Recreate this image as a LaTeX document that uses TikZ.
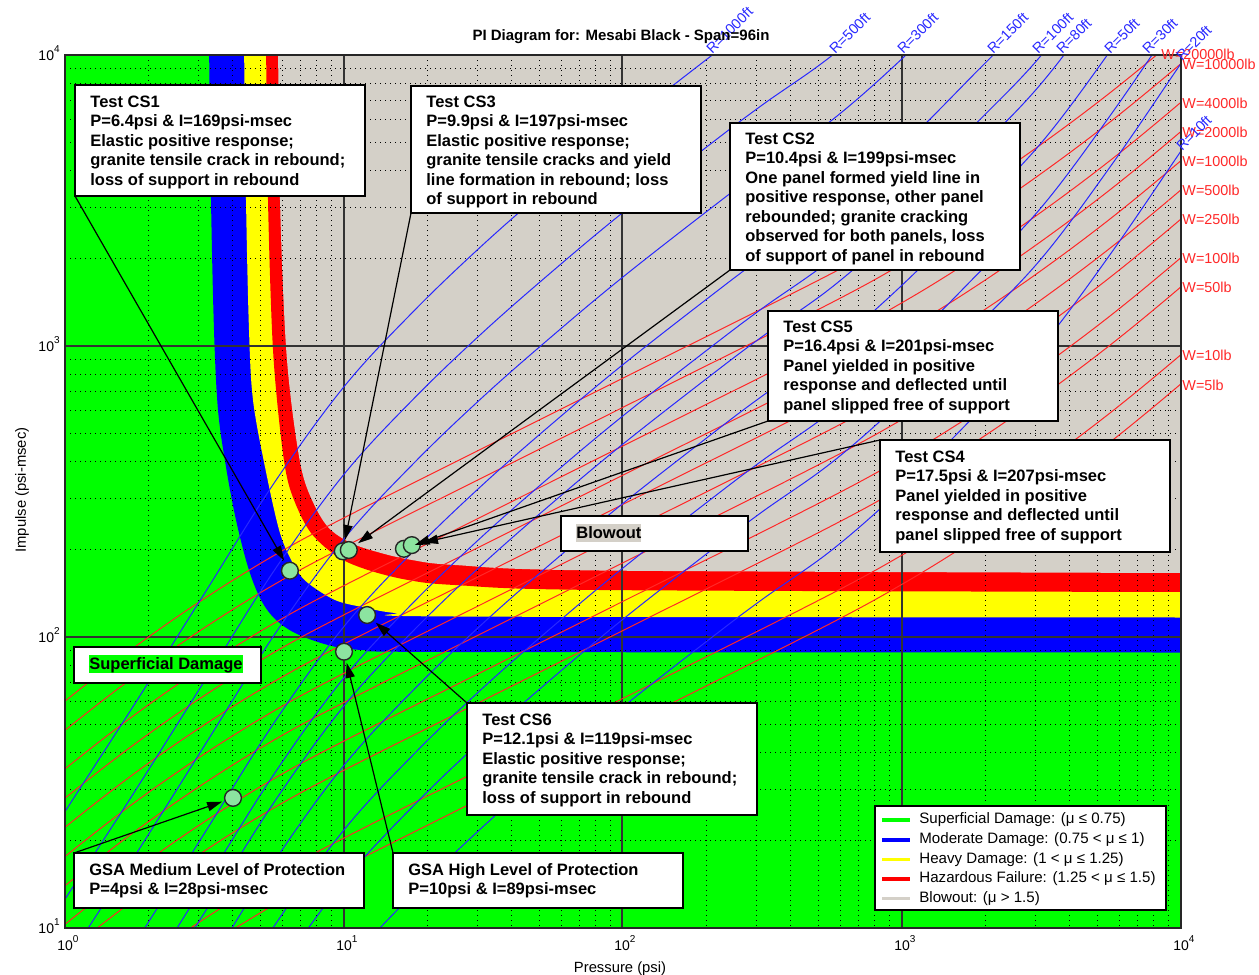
\documentclass[tikz,border=0pt]{standalone}
\usepackage{fontspec}
\setmainfont{Liberation Sans}
\usetikzlibrary{arrows.meta}
\setlength{\fboxsep}{0pt}
\definecolor{cgreen}{RGB}{0,255,0}
\definecolor{cblue}{RGB}{0,0,255}
\definecolor{cyellow}{RGB}{255,255,0}
\definecolor{cred}{RGB}{255,0,0}
\definecolor{cgrey}{RGB}{212,208,200}
\definecolor{ptfill}{RGB}{140,228,160}
\definecolor{rlc}{RGB}{255,40,40}
\definecolor{blc}{RGB}{40,40,255}
\newcommand\tenpow[1]{10\raisebox{0.55em}{\fontsize{5}{5}\selectfont #1}}
\tikzset{
  boxnode/.style={rectangle, draw=black, line width=0.6pt, fill=white, anchor=north west, minimum width=145pt, inner sep=0pt, outer sep=0pt},
  boxtext/.style={anchor=north west, inner sep=0pt, align=left, font=\fontsize{8.25}{9.75}\selectfont\bfseries},
  arr/.style={draw=black, line width=0.6pt, -{Triangle[length=7.5pt,width=4.6pt]}, shorten >=1.2pt},
  datapt/.style={circle, draw=black!85, line width=0.7pt, fill=ptfill, minimum size=8.4pt, inner sep=0pt},
  minorgrid/.style={draw=black, line width=0.5pt, dash pattern=on 0.5pt off 2pt},
  majorgrid/.style={draw=black!80, line width=0.55pt},
  rline/.style={draw=rlc, line width=0.5pt},
  bline/.style={draw=blc, line width=0.5pt},
  wlab/.style={text=rlc, anchor=west, inner sep=0pt, font=\fontsize{7.2}{8}\selectfont},
  rlab/.style={text=blc, anchor=base west, rotate=45, inner sep=0pt, font=\fontsize{7.2}{8}\selectfont},
  ticklab/.style={inner sep=0pt, font=\fontsize{7}{8}\selectfont},
  legtext/.style={anchor=west, inner sep=0pt, font=\fontsize{7.55}{9}\selectfont},
  legline/.style={line width=1.6pt}
}
\begin{document}
\begin{tikzpicture}[x=0.5pt,y=-0.5pt]
\useasboundingbox (0,0) rectangle (1259,975);
\fill[white] (0,0) rectangle (1259,975);
% ---------- plot area ----------
\begin{scope}
\clip (65,55) rectangle (1181,928);
\fill[cgreen] (65,55) rectangle (1181,928);
% damage bands
\fill[cblue] (1300,-100) -- plot[smooth, tension=0.55] coordinates {(209,40) (211,200) (214,330) (218,410) (226,467) (236,520) (248,567) (260,598) (274,618) (295,633) (328,645) (362,650) (455,652) (1190,652.5)} -- cycle;
\fill[cyellow] (1300,-100) -- plot[smooth, tension=0.55] coordinates {(244,40) (246,200) (249,330) (253,400) (265,467) (280,533) (295,567) (308,583) (335,600) (362,607) (395,613) (455,616.5) (1190,617.5)} -- cycle;
\fill[cred] (1300,-100) -- plot[smooth, tension=0.55] coordinates {(266,40) (268,200) (272,330) (277,400) (285,467) (294,500) (311,533) (338,557) (368,570) (408,580) (455,585) (600,590) (1190,592)} -- cycle;
\fill[cgrey] (1300,-100) -- plot[smooth, tension=0.55] coordinates {(278,40) (280,200) (285,330) (291,400) (301,467) (312,500) (328,527) (351,543) (381,553) (412,560) (455,565) (600,570.5) (1190,573)} -- cycle;
% minor grid
\foreach \d in {0,1,2,3}{\foreach \k in {2,...,9}{%
  \pgfmathsetmacro\xx{65+279*(\d+ln(\k)/ln(10))}
  \draw[minorgrid] (\xx,55) -- (\xx,928);}}
\foreach \d in {1,2,3}{\foreach \k in {2,...,9}{%
  \pgfmathsetmacro\yy{1219-291*(\d+ln(\k)/ln(10))}
  \draw[minorgrid] (65,\yy) -- (1181,\yy);}}
% major grid
\foreach \xx in {344,622,902}{\draw[majorgrid] (\xx,55) -- (\xx,928);}
\foreach \yy in {346,637}{\draw[majorgrid] (65,\yy) -- (1181,\yy);}
% charge weight lines (red), given by log10(W)
\foreach \lw in {4.30103,4,3.60206,3.30103,3,2.69897,2.39794,2,1.69897,1,0.69897}{%
  \pgfmathsetmacro\sh{48.5*\lw}
  \draw[rline, yshift=\sh pt] plot[smooth, tension=0.6] coordinates {(9.2,1164.9) (65,1118.3) (134.75,1064.2) (204.5,1015.7) (274.25,972.5) (344,935.0) (483.5,865.1) (623,795.3) (818.3,697.5) (902,652.1) (971.75,609.1) (1041.5,561.3) (1111.25,509.0) (1181,451.6) (1236.8,402.5)};}
% range lines (blue), given by log10(R)
\foreach \lr in {3,2.69897,2.47712,2.17609,2,1.90309,1.69897,1.47712,1.30103,1}{%
  \pgfmathsetmacro\sh{145.5*\lr}
  \draw[bline, yshift=\sh pt] plot[smooth, tension=0.6] coordinates {(9.2,1771.9) (65,1684.6) (134.75,1576.9) (204.5,1466.4) (274.25,1355.8) (344,1259.7) (413.75,1184.1) (483.5,1117.2) (553.25,1056.0) (623,997.8) (712.3,928.0) (762.5,890.2) (832.25,840.7) (902,779.6) (971.75,709.8) (1041.5,637.0) (1111.25,543.9) (1181,442.0) (1236.8,360.6)};}
\end{scope}
\draw[black!85, line width=0.7pt] (65,55) rectangle (1181,928);
% ---------- line labels ----------
\node[wlab] at (1161,54) {W=20000lb};
\node[wlab] at (1182,64) {W=10000lb};
\node[wlab] at (1182,103) {W=4000lb};
\node[wlab] at (1182,132) {W=2000lb};
\node[wlab] at (1182,161) {W=1000lb};
\node[wlab] at (1182,190) {W=500lb};
\node[wlab] at (1182,219) {W=250lb};
\node[wlab] at (1182,258) {W=100lb};
\node[wlab] at (1182,287) {W=50lb};
\node[wlab] at (1182,355) {W=10lb};
\node[wlab] at (1182,385) {W=5lb};
\node[rlab] at (712,55) {R=1000ft};
\node[rlab] at (835,55) {R=500ft};
\node[rlab] at (903,55) {R=300ft};
\node[rlab] at (993,55) {R=150ft};
\node[rlab] at (1038,55) {R=100ft};
\node[rlab] at (1062,55) {R=80ft};
\node[rlab] at (1110,55) {R=50ft};
\node[rlab] at (1148,55) {R=30ft};
\node[rlab] at (1182,62) {R=20ft};
\node[rlab] at (1182,152) {R=10ft};
% ---------- axes text ----------
\node[font=\fontsize{7.5}{9}\selectfont\bfseries] at (621,37) {PI Diagram for: Mesabi Black - Span=96in};
\node[ticklab, anchor=base east] at (60,60) {\tenpow{4}};
\node[ticklab, anchor=base east] at (60,351) {\tenpow{3}};
\node[ticklab, anchor=base east] at (60,642) {\tenpow{2}};
\node[ticklab, anchor=base east] at (60,933) {\tenpow{1}};
\node[ticklab, anchor=base west] at (57,950) {\tenpow{0}};
\node[ticklab, anchor=base west] at (336,950) {\tenpow{1}};
\node[ticklab, anchor=base west] at (614,950) {\tenpow{2}};
\node[ticklab, anchor=base west] at (894,950) {\tenpow{3}};
\node[ticklab, anchor=base west] at (1173,950) {\tenpow{4}};
\node[font=\fontsize{7.4}{8}\selectfont, anchor=base] at (620,972) {Pressure (psi)};
\node[font=\fontsize{7.4}{8}\selectfont, rotate=90] at (22,490) {Impulse (psi-msec)};
% ---------- data points ----------
\node[datapt] (p1) at (289.9,570.7) {};
\node[datapt] (p3) at (342.8,551.3) {};
\node[datapt] (p2) at (348.8,550.0) {};
\node[datapt] (p5) at (403.9,548.8) {};
\node[datapt] (p4) at (411.8,545.1) {};
\node[datapt] (p6) at (367.1,615.0) {};
\node[datapt] (p7) at (344.0,651.7) {};
\node[datapt] (p8) at (233.0,797.9) {};
% ---------- callout boxes ----------
\node[boxnode, minimum height=55.5pt] (cs1) at (75,85) {};
\node[boxtext] at ([shift={(15,8)}]cs1.north west) {\rule{0pt}{7pt}Test CS1\\P=6.4psi \& I=169psi-msec\\Elastic positive response;\\granite tensile crack in rebound;\\loss of support in rebound};
\node[boxnode, minimum height=63.5pt] (cs3) at (411,86) {};
\node[boxtext] at ([shift={(15,7)}]cs3.north west) {\rule{0pt}{7pt}Test CS3\\P=9.9psi \& I=197psi-msec\\Elastic positive response;\\granite tensile cracks and yield\\line formation in rebound; loss\\of support in rebound};
\node[boxnode, minimum height=73.5pt] (cs2) at (730,123) {};
\node[boxtext] at ([shift={(15,7)}]cs2.north west) {\rule{0pt}{7pt}Test CS2\\P=10.4psi \& I=199psi-msec\\One panel formed yield line in\\positive response, other panel\\rebounded; granite cracking\\observed for both panels, loss\\of support of panel in rebound};
\node[boxnode, minimum height=55pt] (cs5) at (768,311) {};
\node[boxtext] at ([shift={(15,7)}]cs5.north west) {\rule{0pt}{7pt}Test CS5\\P=16.4psi \& I=201psi-msec\\Panel yielded in positive\\response and deflected until\\panel slipped free of support};
\node[boxnode, minimum height=56pt] (cs4) at (880,440) {};
\node[boxtext] at ([shift={(15,8)}]cs4.north west) {\rule{0pt}{7pt}Test CS4\\P=17.5psi \& I=207psi-msec\\Panel yielded in positive\\response and deflected until\\panel slipped free of support};
\node[boxnode, minimum height=56pt] (cs6) at (467,703) {};
\node[boxtext] at ([shift={(15,8)}]cs6.north west) {\rule{0pt}{7pt}Test CS6\\P=12.1psi \& I=119psi-msec\\Elastic positive response;\\granite tensile crack in rebound;\\loss of support in rebound};
\node[boxnode, minimum height=27.5pt] (gsam) at (74,853) {};
\node[boxtext] at ([shift={(15,8)}]gsam.north west) {\rule{0pt}{7pt}GSA Medium Level of Protection\\P=4psi \& I=28psi-msec};
\node[boxnode, minimum height=27.5pt] (gsah) at (393,853) {};
\node[boxtext] at ([shift={(15,8)}]gsah.north west) {\rule{0pt}{7pt}GSA High Level of Protection\\P=10psi \& I=89psi-msec};
\node[boxnode, minimum width=93.5pt, minimum height=18pt] (sup) at (74,647) {};
\node[boxtext] at ([shift={(15,8)}]sup.north west) {\colorbox{cgreen}{\rule[-1.8pt]{0pt}{9pt}Superficial Damage}};
\node[boxnode, minimum width=93.5pt, minimum height=17.5pt] (blw) at (561,516) {};
\node[boxtext] at ([shift={(15,8)}]blw.north west) {\colorbox{cgrey}{\rule[-1.8pt]{0pt}{9pt}Blowout}};
% ---------- arrows ----------
\draw[arr] (cs1.south west) -- (p1);
\draw[arr] (cs3.south west) -- (p3);
\draw[arr] (cs2.south west) -- (p2);
\draw[arr] (cs5.south west) -- (p5);
\draw[arr] (cs4.north west) -- (p4);
\draw[arr] (cs6.north west) -- (p6);
\draw[arr] (gsah.north west) -- (p7);
\draw[arr] (gsam.north west) -- (p8);
% ---------- legend ----------
\node[boxnode, minimum width=145.5pt, minimum height=52pt] (leg) at (875,806) {};
\draw[legline, cgreen] (882,820) -- (910,820);
\draw[legline, cblue] (882,840) -- (910,840);
\draw[legline, cyellow] (882,859.5) -- (910,859.5);
\draw[legline, cred] (882,879) -- (910,879);
\draw[legline, cgrey] (882,898.5) -- (910,898.5);
\node[legtext] at (919,820) {Superficial Damage: (μ ≤ 0.75)};
\node[legtext] at (919,840) {Moderate Damage: (0.75 < μ ≤ 1)};
\node[legtext] at (919,859.5) {Heavy Damage: (1 < μ ≤ 1.25)};
\node[legtext] at (919,879) {Hazardous Failure: (1.25 < μ ≤ 1.5)};
\node[legtext] at (919,898.5) {Blowout: (μ > 1.5)};
\end{tikzpicture}
\end{document}
